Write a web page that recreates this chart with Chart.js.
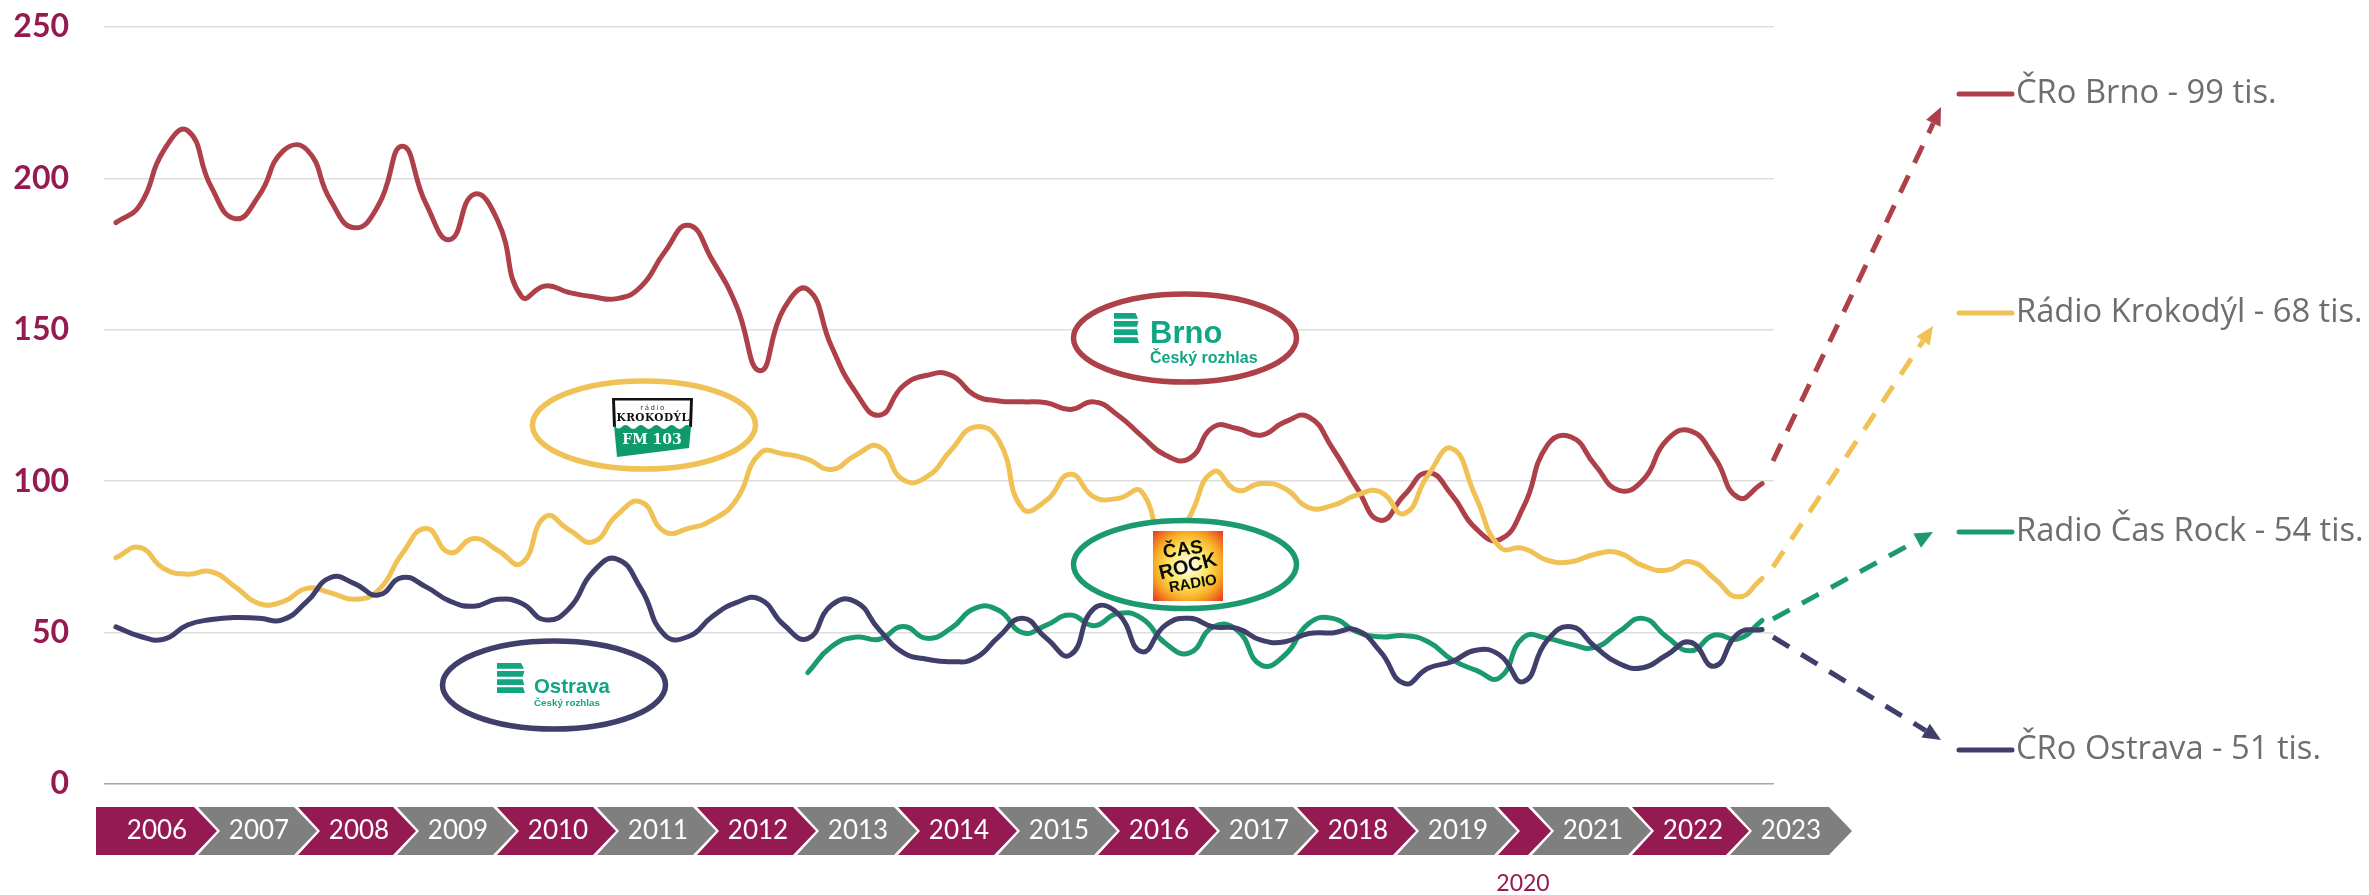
<!DOCTYPE html>
<html lang="cs">
<head>
<meta charset="utf-8">
<title>Poslechovost regionálních rádií</title>
<style>
    html, body { margin: 0; padding: 0; background: #ffffff; }
    canvas { display: block; }
</style>
<script src="https://cdn.jsdelivr.net/npm/chart.js@4/dist/chart.umd.min.js"></script>
</head>
<body>
<canvas id="radioChart" width="2369" height="895"></canvas>
<script>
// Years and how many measurements each one has on the axis
const years = ['2006', '2007', '2008', '2009', '2010', '2011', '2012', '2013', '2014', '2015', '2016', '2017', '2018', '2019', '2020', '2021', '2022', '2023'];
const pointsPerYear = [4, 4, 4, 4, 4, 4, 4, 4, 4, 4, 4, 4, 4, 4, 2, 4, 4, 4];
const yTicks = [0, 50, 100, 150, 200, 250];

// Listeners in thousands
const croBrno = [
    185.4, 191.1, 209.2, 215.8, 197.1, 186.7, 194.4, 209, 209.5, 192.7, 183.7, 191.1, 210.6, 191.6, 179.8, 194.7, 186.1,
    161, 164.5, 162.3, 160.9, 160.3, 164.2, 175.7, 184.5, 173, 158.1, 136.5, 157, 163.3, 144.4, 129.5, 121.8, 131.5, 135,
    135, 128.4, 126.5, 126.2, 125.9, 123.7, 126.2, 121.8, 114.9, 108.6, 107.5, 117.9, 117.4, 115.2, 119.6, 121.2, 110.8, 98,
    87.1, 95.4, 102.8, 95.4, 84.4, 80.7, 91.5, 111.9, 114.6, 105.3, 97, 100.3, 113.5, 116.6, 108, 94.6, 99.2
];
const radioKrokodyl = [
    74.7, 78.1, 71.2, 69.3, 70.1, 65.1, 59.6, 60.2, 64.6, 63.1, 61, 64, 76.1, 84.4, 76.4, 81.1, 77.2,
    72.9, 88.3, 83.9, 80, 88.8, 93.2, 83.3, 84.4, 87.2, 93.8, 109.2, 109, 107.2, 103.9, 108.6, 111.4, 100.4, 101.5,
    110.2, 117.9, 113.5, 91, 93.7, 102.3, 94.8, 94.3, 96.5, 75, 88.2, 103.1, 97, 99.2, 97.6, 91.3, 92, 95.4,
    96.5, 89.3, 102, 110.8, 94.8, 78.3, 77.8, 73.9, 73.4, 75.9, 76.3, 72.1, 70.6, 73.4, 67.9, 61.8, 67.9
];
const radioCasRock = [
    null, null, null, null, null, null, null, null, null, null, null, null, null, null, null, null, null,
    null, null, null, null, null, null, null, null, null, null, null, null, 36.8, 45.4, 48.5, 47.8, 52, 48.1,
    51.4, 58, 57.4, 50, 52.5, 55.8, 52.3, 56.3, 54.7, 46.4, 43.3, 51.9, 50.8, 39.3, 42.6, 53, 54.7, 50.3,
    48.6, 49, 47, 41.1, 37.6, 35.1, 48.4, 48.1, 46.1, 45.1, 50.3, 54.7, 48.6, 44, 49.2, 47.9, 54
];
const croOstrava = [
    51.9, 48.8, 47.8, 52.5, 54.3, 55, 54.7, 54.3, 60.2, 68.2, 66.2, 62.4, 68.2, 65.1, 60.4, 58.7, 61,
    59.7, 54.2, 58, 70.1, 74.3, 64.6, 49.2, 48.7, 55.3, 59.9, 61, 52.5, 48, 59.1, 60.2, 50.9, 43.4, 41.2,
    40.4, 41.5, 48.6, 54.7, 48.1, 42.6, 58, 56.3, 43.7, 52.5, 54.7, 51.9, 51.4, 47.5, 47, 49.7, 49.9, 50.8,
    43.7, 33.2, 38.2, 40.4, 44.2, 42.6, 33.8, 47.5, 51.9, 45.3, 39.8, 38.4, 42.6, 46.8, 38.9, 49.7, 51
];

// Colours
const BRNO_COLOR = '#AE4049';
const KROKODYL_COLOR = '#F0C155';
const CAS_ROCK_COLOR = '#1B9A70';
const OSTRAVA_COLOR = '#403F6B';
const MAROON = '#961A52';
const GRAY = '#7F7F7F';
const LOGO_TEAL = '#12A584';

// Layout of the year band below the plot (left edge of each chevron)
const chevronLeft = [96, 198, 298, 397, 497, 597, 697, 797, 898, 998, 1098, 1198, 1297, 1397, 1498, 1532, 1632, 1730];

// One category per measurement, the year band is drawn separately
const categories = [];
years.forEach((year, y) => {
    for (let q = 1; q <= pointsPerYear[y]; q++) {
        categories.push(`${q}/${year}`);
    }
});

function drawChevrons(ctx) {
    const top = 807, bottom = 855, mid = 831;
    years.forEach((year, i) => {
        const left = chevronLeft[i];
        const bodyRight = i < years.length - 1 ? chevronLeft[i + 1] - 4 : 1829;
        ctx.fillStyle = i % 2 === 0 ? MAROON : GRAY;
        ctx.beginPath();
        ctx.moveTo(left, top);
        ctx.lineTo(bodyRight, top);
        ctx.lineTo(bodyRight + 23, mid);
        ctx.lineTo(bodyRight, bottom);
        ctx.lineTo(left, bottom);
        if (i > 0) ctx.lineTo(left + 22, mid);
        ctx.closePath();
        ctx.fill();

        // 2020 does not fit inside its chevron, its label goes underneath
        if (year === '2020') {
            ctx.fillStyle = MAROON;
            ctx.font = '23px Lato';
            ctx.textAlign = 'center';
            ctx.textBaseline = 'middle';
            ctx.fillText(year, 1523, 884);
        } else {
            ctx.fillStyle = '#ffffff';
            ctx.font = '26px Lato';
            ctx.textAlign = 'center';
            ctx.textBaseline = 'middle';
            ctx.fillText(year, left + 61, mid);
        }
    });
}

function drawArrow(ctx, x1, y1, x2, y2, color) {
    const angle = Math.atan2(y2 - y1, x2 - x1);
    const head = 18;
    ctx.save();
    ctx.strokeStyle = color;
    ctx.fillStyle = color;
    ctx.lineWidth = 5;
    ctx.setLineDash([19, 14]);
    ctx.beginPath();
    ctx.moveTo(x1, y1);
    ctx.lineTo(x2 - head * Math.cos(angle), y2 - head * Math.sin(angle));
    ctx.stroke();
    ctx.setLineDash([]);
    ctx.translate(x2, y2);
    ctx.rotate(angle);
    ctx.beginPath();
    ctx.moveTo(0, 0);
    ctx.lineTo(-head, -8);
    ctx.lineTo(-head, 8);
    ctx.closePath();
    ctx.fill();
    ctx.restore();
}

function drawLegend(ctx) {
    const rows = [
        ['ČRo Brno - 99 tis.', 94, BRNO_COLOR],
        ['Rádio Krokodýl - 68 tis.', 313, KROKODYL_COLOR],
        ['Radio Čas Rock - 54 tis.', 532, CAS_ROCK_COLOR],
        ['ČRo Ostrava - 51 tis.', 750, OSTRAVA_COLOR]
    ];
    ctx.save();
    ctx.font = '32.7px "Open Sans"';
    ctx.textAlign = 'left';
    ctx.textBaseline = 'middle';
    ctx.lineCap = 'round';
    rows.forEach(([label, y, color]) => {
        ctx.strokeStyle = color;
        ctx.lineWidth = 5;
        ctx.beginPath();
        ctx.moveTo(1959, y);
        ctx.lineTo(2012, y);
        ctx.stroke();
        ctx.fillStyle = '#6E6E6E';
        ctx.fillText(label, 2016, y);
    });
    ctx.restore();
}

function drawEllipse(ctx, cx, cy, color) {
    ctx.beginPath();
    ctx.ellipse(cx, cy, 111.5, 44, 0, 0, Math.PI * 2);
    ctx.fillStyle = '#ffffff';
    ctx.fill();
    ctx.strokeStyle = color;
    ctx.lineWidth = 5.5;
    ctx.stroke();
}

// The striped R of Cesky rozhlas
function drawRadioMark(ctx, x, y, w, h) {
    const stripe = h * 0.19;
    const gap = (h - stripe * 4) / 3;
    ctx.fillStyle = LOGO_TEAL;
    const stripes = [
        [0.86, 0.10], [0.98, -0.06], [0.92, 0.05], [0.93, 0.07]
    ];
    stripes.forEach(([right, slant], i) => {
        const top = y + i * (stripe + gap);
        ctx.beginPath();
        ctx.moveTo(x, top);
        ctx.lineTo(x + w * right, top);
        ctx.lineTo(x + w * (right + slant), top + stripe);
        ctx.lineTo(x, top + stripe);
        ctx.closePath();
        ctx.fill();
    });
}

function drawStationLogo(ctx, x, y, w, h, name, nameX, nameBase, nameSize, subBase, subSize) {
    drawRadioMark(ctx, x, y, w, h);
    ctx.fillStyle = LOGO_TEAL;
    ctx.textAlign = 'left';
    ctx.textBaseline = 'alphabetic';
    ctx.font = `bold ${nameSize}px "Liberation Sans"`;
    ctx.fillText(name, nameX, nameBase);
    ctx.font = `bold ${subSize}px "Liberation Sans"`;
    ctx.fillText('Český rozhlas', nameX, subBase);
}

function drawKrokodylLogo(ctx) {
    // black frame
    ctx.fillStyle = '#111111';
    ctx.beginPath();
    ctx.moveTo(612, 398);
    ctx.lineTo(693, 398);
    ctx.lineTo(692, 427);
    ctx.lineTo(689, 427);
    ctx.lineTo(690, 400.5);
    ctx.lineTo(615, 400.5);
    ctx.lineTo(616, 427);
    ctx.lineTo(613, 427);
    ctx.closePath();
    ctx.fill();

    // green body with a wavy top edge
    ctx.fillStyle = '#0E9A6B';
    ctx.beginPath();
    ctx.moveTo(614, 425);
    for (let i = 0; i < 5; i++) {
        const sx = 614 + i * 15.4;
        ctx.quadraticCurveTo(sx + 3.8, 431, sx + 7.7, 427);
        ctx.quadraticCurveTo(sx + 11.5, 423, sx + 15.4, 427);
    }
    ctx.lineTo(689, 448);
    ctx.lineTo(617, 457);
    ctx.closePath();
    ctx.fill();

    ctx.textAlign = 'center';
    ctx.textBaseline = 'middle';
    ctx.fillStyle = '#333333';
    ctx.font = '7px "DejaVu Sans"';
    ctx.letterSpacing = '1.5px';
    ctx.fillText('rádio', 653, 408.5);
    ctx.letterSpacing = '0.5px';
    ctx.fillStyle = '#111111';
    ctx.font = 'bold 10.5px "DejaVu Serif"';
    ctx.fillText('KROKODÝL', 653, 418);
    ctx.letterSpacing = '0px';
    ctx.fillStyle = '#ffffff';
    ctx.font = 'bold 14px "DejaVu Serif"';
    ctx.fillText('FM 103', 652, 440);
}

function drawCasRockLogo(ctx) {
    const x = 1153, y = 531, w = 70, h = 70;
    const glow = ctx.createRadialGradient(x + 35, y + 35, 4, x + 35, y + 35, 50);
    glow.addColorStop(0, '#FFFBE0');
    glow.addColorStop(0.35, '#FCE45A');
    glow.addColorStop(0.65, '#F7A823');
    glow.addColorStop(1, '#E42F26');
    ctx.fillStyle = glow;
    ctx.fillRect(x, y, w, h);

    function word(text, cx, cy, size, deg) {
        ctx.save();
        ctx.translate(cx, cy);
        ctx.rotate(deg * Math.PI / 180);
        ctx.font = `bold ${size}px "Liberation Sans Narrow", "Liberation Sans"`;
        ctx.textAlign = 'center';
        ctx.textBaseline = 'middle';
        ctx.fillStyle = '#0A0A0A';
        ctx.fillText(text, 0, 0);
        ctx.restore();
    }
    word('ČAS', 1183, 550, 19, -8);
    word('ROCK', 1188, 567, 20, -14);
    word('RADIO', 1193, 584, 15, -10);
}

const decorations = {
    id: 'decorations',
    // ellipses cover the yellow line but stay under the two lower ones
    afterDatasetDraw(chart, args) {
        if (args.index !== 2) return;
        const ctx = chart.ctx;
        ctx.save();
        drawEllipse(ctx, 1185, 338, BRNO_COLOR);
        drawEllipse(ctx, 1185, 564.5, CAS_ROCK_COLOR);
        drawEllipse(ctx, 644, 425, KROKODYL_COLOR);
        drawEllipse(ctx, 554, 685, OSTRAVA_COLOR);
        drawStationLogo(ctx, 1114, 313, 25, 30, 'Brno', 1150, 343, 31, 363, 16);
        drawStationLogo(ctx, 497, 663, 28, 30, 'Ostrava', 534, 693, 20.4, 705.5, 9.8);
        drawKrokodylLogo(ctx);
        drawCasRockLogo(ctx);
        ctx.restore();
    },
    afterDraw(chart) {
        const ctx = chart.ctx;
        ctx.save();
        drawChevrons(ctx);
        drawArrow(ctx, 1773, 461, 1941, 107, BRNO_COLOR);
        drawArrow(ctx, 1773, 567, 1933, 326, KROKODYL_COLOR);
        drawArrow(ctx, 1773, 619, 1933, 532, CAS_ROCK_COLOR);
        drawArrow(ctx, 1773, 637, 1941, 740, OSTRAVA_COLOR);
        drawLegend(ctx);
        ctx.restore();
    }
};

function lineDataset(label, data, color) {
    return {
        label: label,
        data: data,
        borderColor: color,
        backgroundColor: color,
        borderWidth: 5,
        borderCapStyle: 'round',
        pointRadius: 0,
        tension: 0.5
    };
}

new Chart(document.getElementById('radioChart'), {
    type: 'line',
    data: {
        labels: categories,
        // first dataset ends up on top
        datasets: [
            lineDataset('ČRo Ostrava', croOstrava, OSTRAVA_COLOR),
            lineDataset('Radio Čas Rock', radioCasRock, CAS_ROCK_COLOR),
            lineDataset('Rádio Krokodýl', radioKrokodyl, KROKODYL_COLOR),
            lineDataset('ČRo Brno', croBrno, BRNO_COLOR)
        ]
    },
    options: {
        responsive: false,
        animation: false,
        layout: {
            padding: { top: 27, bottom: 111, left: 0, right: 595 }
        },
        scales: {
            x: {
                display: false,
                offset: true
            },
            y: {
                min: 0,
                max: 250,
                // fixed gutter, and the tick padding must not push the plot down
                afterFit: scale => {
                    scale.width = 104;
                    scale.paddingTop = 0;
                    scale.paddingBottom = 0;
                },
                afterBuildTicks: scale => { scale.ticks = yTicks.map(value => ({ value })); },
                border: { display: false },
                grid: {
                    drawTicks: false,
                    lineWidth: 1.5,
                    color: ctx => ctx.tick && ctx.tick.value === 0 ? '#A6A6A6' : '#DEDEDE'
                },
                ticks: {
                    padding: 35,
                    color: MAROON,
                    font: { family: 'Lato', weight: 'bold', size: 32 }
                }
            }
        },
        plugins: {
            legend: { display: false },
            tooltip: { enabled: false }
        }
    },
    plugins: [decorations]
});
</script>
</body>
</html>
